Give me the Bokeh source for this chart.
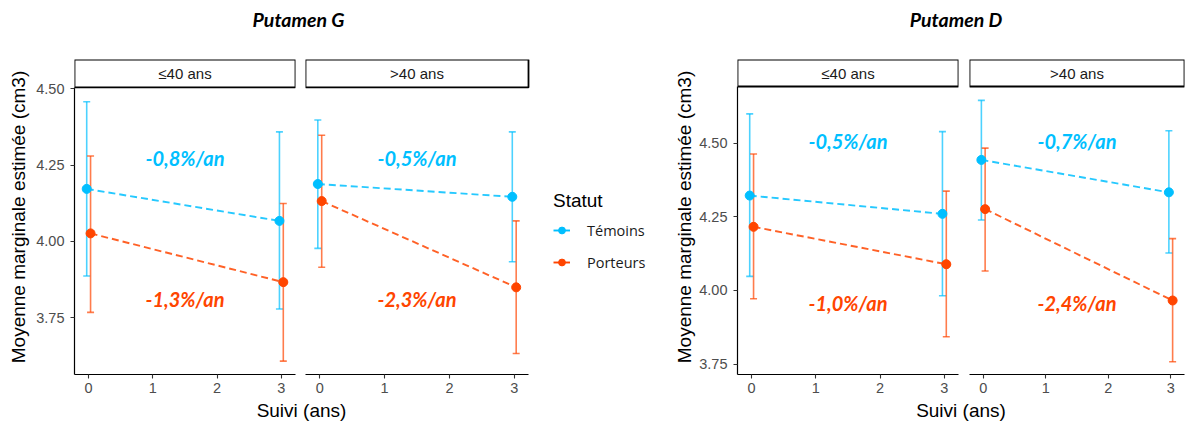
from bokeh.plotting import figure
from bokeh.models import (Range1d, FixedTicker, PrintfTickFormatter, Whisker, TeeHead,
                          BoxAnnotation, Label, Legend, LegendItem, ColumnDataSource)
from bokeh.layouts import row, column
from bokeh.embed import file_html
from bokeh.resources import INLINE
from bokeh.core.properties import value

# ---------------- data ----------------
times = [0, 3]
groups = ["Témoins", "Porteurs"]
x_ticks = [0, 1, 2, 3]
y_ticks = [3.75, 4.00, 4.25, 4.50]
strip_labels = ["≤40 ans", ">40 ans"]
chart_titles = ["Putamen G", "Putamen D"]
legend_title = "Statut"
y_label = "Moyenne marginale estimée (cm3)"
x_label = "Suivi (ans)"

# Putamen G
G_le40_tem = [4.172, 4.067]; G_le40_tem_lo = [3.886, 3.778]; G_le40_tem_hi = [4.458, 4.359]
G_le40_por = [4.026, 3.866]; G_le40_por_lo = [3.767, 3.607]; G_le40_por_hi = [4.280, 4.124]
G_gt40_tem = [4.188, 4.146]; G_gt40_tem_lo = [3.977, 3.933]; G_gt40_tem_hi = [4.398, 4.359]
G_gt40_por = [4.132, 3.849]; G_gt40_por_lo = [3.915, 3.632]; G_gt40_por_hi = [4.348, 4.067]
G_le40_rates = ["-0,8%/an", "-1,3%/an"]
G_gt40_rates = ["-0,5%/an", "-2,3%/an"]

# Putamen D
D_le40_tem = [4.322, 4.260]; D_le40_tem_lo = [4.048, 3.982]; D_le40_tem_hi = [4.599, 4.539]
D_le40_por = [4.216, 4.089]; D_le40_por_lo = [3.972, 3.843]; D_le40_por_hi = [4.463, 4.337]
D_gt40_tem = [4.443, 4.333]; D_gt40_tem_lo = [4.239, 4.127]; D_gt40_tem_hi = [4.645, 4.542]
D_gt40_por = [4.276, 3.966]; D_gt40_por_lo = [4.066, 3.758]; D_gt40_por_hi = [4.483, 4.176]
D_le40_rates = ["-0,5%/an", "-1,0%/an"]
D_gt40_rates = ["-0,7%/an", "-2,4%/an"]

# ---------------- layout / style ----------------
G_YLIM = (3.563, 4.505)
D_YLIM = (3.715, 4.692)
G_RATE_Y = [4.272, 3.811]   # label positions (data units)
D_RATE_Y = [4.506, 3.958]
XLIM = (-0.22, 3.22)
DODGE = 0.03
C_TEM = "#00BFFF"
C_POR = "#FF4500"
COLORS = [C_TEM, C_POR]
OFFSETS = [-DODGE, DODGE]
TOP_H, MID_H, BOT_H = 57, 343, 22
SANS = "Liberation Sans"
ANN_FONT = "Lato"


def style_xaxis(p):
    ax = p.xaxis[0]
    ax.ticker = FixedTicker(ticks=x_ticks)
    ax.bounds = XLIM
    ax.axis_line_color = "black"
    ax.axis_line_width = 1.2
    ax.major_tick_line_color = "#333333"
    ax.major_tick_line_width = 1.1
    ax.major_tick_out = 4
    ax.major_tick_in = 0
    ax.minor_tick_line_color = None
    ax.major_label_text_font = SANS
    ax.major_label_text_font_size = "14.5px"
    ax.major_label_text_color = "#4D4D4D"
    ax.major_label_standoff = 4


def style_yaxis(p, ylim, standoff):
    ax = p.yaxis[0]
    ax.ticker = FixedTicker(ticks=y_ticks)
    ax.formatter = PrintfTickFormatter(format="%.2f")
    ax.bounds = ylim
    ax.axis_line_color = "black"
    ax.axis_line_width = 1.2
    ax.major_tick_line_color = "#333333"
    ax.major_tick_line_width = 1.1
    ax.major_tick_out = 4
    ax.major_tick_in = 0
    ax.minor_tick_line_color = None
    ax.major_label_text_font = SANS
    ax.major_label_text_font_size = "14.5px"
    ax.major_label_text_color = "#4D4D4D"
    ax.major_label_standoff = 6
    ax.axis_label = y_label
    ax.axis_label_text_font = SANS
    ax.axis_label_text_font_size = "19px"
    ax.axis_label_text_font_style = "normal"
    ax.axis_label_text_color = "black"
    ax.axis_label_standoff = standoff


def panel(width, mb_left, mb_right, mb_bottom, strip_px, ylim, strip_text,
          series, rates, rate_y, show_y, ylab_standoff=4, panel_px=None):
    ylo, yhi = ylim
    data_px = MID_H - 2 - mb_bottom - strip_px
    ytop = yhi + strip_px * (yhi - ylo) / data_px
    frame_px = width - mb_left - mb_right
    if panel_px is None:
        panel_px = frame_px
    xend = XLIM[0] + frame_px * (XLIM[1] - XLIM[0]) / panel_px
    p = figure(width=width, height=MID_H,
               x_range=Range1d(XLIM[0], xend), y_range=Range1d(ylo, ytop),
               output_backend="svg", toolbar_location=None,
               min_border_left=mb_left, min_border_right=mb_right,
               min_border_top=2, min_border_bottom=mb_bottom,
               y_axis_location="left" if show_y else None,
               outline_line_color=None)
    p.grid.visible = False
    # a range far from the data: renderers attached to it stay out of the frame
    p.extra_y_ranges = {"key": Range1d(ylo + 10, ytop + 10)}
    style_xaxis(p)
    if show_y:
        style_yaxis(p, ylim, ylab_standoff)

    keys = []
    for (mean, lo, hi), color, off in zip(series, COLORS, OFFSETS):
        src = ColumnDataSource(dict(x=[t + off for t in times], y=mean, lo=lo, hi=hi))
        w = Whisker(source=src, base="x", upper="hi", lower="lo", dimension="height",
                    line_color=color, line_alpha=0.7, line_width=1.6, level="underlay",
                    upper_head=TeeHead(size=7, line_color=color, line_alpha=0.7, line_width=1.6),
                    lower_head=TeeHead(size=7, line_color=color, line_alpha=0.7, line_width=1.6))
        p.add_layout(w)
        p.line("x", "y", source=src, line_color=color, line_width=1.9,
               line_dash="7 4", line_alpha=0.85)
        sc = p.scatter("x", "y", source=src, size=9, fill_color=color, line_color=color)
        # solid key line used only by the legend (drawn against the out-of-view range)
        key_line = p.line("x", "y", source=src, y_range_name="key",
                          line_color=color, line_width=1.9)
        keys.append((key_line, sc))

    xmid = (XLIM[0] + XLIM[1]) / 2
    rsrc = ColumnDataSource(dict(x=[xmid, xmid], y=rate_y, text=rates, color=COLORS))
    p.text("x", "y", text="text", source=rsrc, text_color="color",
           text_font=value(ANN_FONT), text_font_style="bold italic",
           text_font_size="20px", text_align="center", text_baseline="middle")

    strip = BoxAnnotation(left=XLIM[0], right=XLIM[1], bottom=yhi, top=ytop,
                          fill_color="white", fill_alpha=1.0,
                          line_color="black", line_alpha=1.0, line_width=1.8)
    p.add_layout(strip)
    p.add_layout(Label(x=xmid, y=(yhi + ytop) / 2, text=strip_text,
                       text_align="center", text_baseline="middle",
                       text_font=SANS, text_font_size="15px", text_color="#1A1A1A"))
    return p, keys


def text_fig(width, height, texts):
    p = figure(width=width, height=height, x_range=Range1d(0, width),
               y_range=Range1d(height, 0), output_backend="svg", toolbar_location=None,
               min_border=0, x_axis_location=None, y_axis_location=None,
               outline_line_color=None)
    p.grid.visible = False
    for (x, y, t, font, size, style) in texts:
        p.add_layout(Label(x=x, y=y, text=t, text_align="center", text_baseline="middle",
                           text_font=font, text_font_size=size, text_font_style=style,
                           text_color="black"))
    return p


# widths of the four panel figures
W1, W2, W3, W4 = 300, 365, 298, 223

# ---------------- Putamen G ----------------
L1, _ = panel(W1, 74, 5, 25, 28, G_YLIM, strip_labels[0],
              [(G_le40_tem, G_le40_tem_lo, G_le40_tem_hi), (G_le40_por, G_le40_por_lo, G_le40_por_hi)],
              G_le40_rates, G_RATE_Y, True, 4)
# second panel: frame extends to the right to host the legend; axis bounded to the panel
L2, lkeys = panel(W2, 5, 2, 25, 28, G_YLIM, strip_labels[1],
                  [(G_gt40_tem, G_gt40_tem_lo, G_gt40_tem_hi), (G_gt40_por, G_gt40_por_lo, G_gt40_por_hi)],
                  G_gt40_rates, G_RATE_Y, False, panel_px=223)

items = [LegendItem(label=g, renderers=[kl, sc]) for g, (kl, sc) in zip(groups, lkeys)]
leg = Legend(items=items, location=(248, 102), title=legend_title,
             title_text_font=SANS, title_text_font_size="19px", title_text_font_style="normal",
             title_text_color="black", title_standoff=8,
             label_text_font="Open Sans", label_text_font_size="14.5px", label_text_color="#1A1A1A",
             glyph_width=17, glyph_height=20, label_height=20, label_standoff=17,
             spacing=12, padding=0, margin=0, border_line_color=None, background_fill_alpha=0)
L2.add_layout(leg, "center")

# ---------------- Putamen D ----------------
R1, _ = panel(W3, 72, 5, 26, 27, D_YLIM, strip_labels[0],
              [(D_le40_tem, D_le40_tem_lo, D_le40_tem_hi), (D_le40_por, D_le40_por_lo, D_le40_por_hi)],
              D_le40_rates, D_RATE_Y, True, 1)
R2, _ = panel(W4, 6, 2, 26, 27, D_YLIM, strip_labels[1],
              [(D_gt40_tem, D_gt40_tem_lo, D_gt40_tem_hi), (D_gt40_por, D_gt40_por_lo, D_gt40_por_hi)],
              D_gt40_rates, D_RATE_Y, False)
R2.y_range = R1.y_range

LW = W1 + W2
RW = W3 + W4
lc = (74 + W1 + 5 + 223) / 2          # centre of both left panels
rc = (72 + W3 + 6 + 215) / 2          # centre of both right panels

TL = text_fig(LW, TOP_H, [(lc - 3, 19, chart_titles[0], ANN_FONT, "19.5px", "bold italic")])
TR = text_fig(RW, TOP_H, [(rc - 5, 19, chart_titles[1], ANN_FONT, "19.5px", "bold italic")])
BL = text_fig(LW, BOT_H, [(lc, 10, x_label, SANS, "19px", "normal")])
BR = text_fig(RW, BOT_H, [(rc, 10, x_label, SANS, "19px", "normal")])

layout = column(row(TL, TR), row(L1, L2, R1, R2), row(BL, BR))

with open("out.html", "w") as f:
    f.write(file_html(layout, INLINE))
